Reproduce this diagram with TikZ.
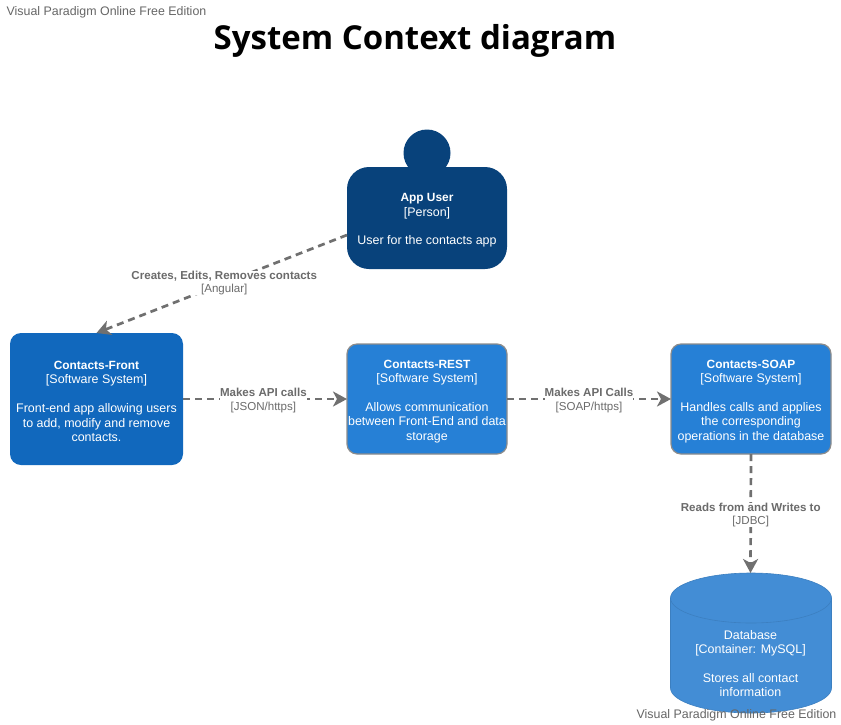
\documentclass[tikz,border=0pt]{standalone}
\usepackage{fontspec}
\setmainfont{Liberation Sans}
\newfontfamily\titlefont{Open Sans}
\usetikzlibrary{arrows.meta}
\definecolor{edgegray}{HTML}{707070}
\definecolor{labelgray}{HTML}{6B6B6B}
\definecolor{markgray}{HTML}{666666}
\definecolor{personblue}{HTML}{08427B}
\definecolor{frontblue}{HTML}{1168BD}
\definecolor{sysblue}{HTML}{2680D6}
\definecolor{sysline}{HTML}{8C8C8C}
\definecolor{dbblue}{HTML}{438DD5}
\definecolor{dbline}{HTML}{3C7FC0}
\newcommand{\boxhead}[1]{\rule{0pt}{13pt}{\fontsize{11.9}{14.4}\selectfont\bfseries #1}}
\tikzset{
  x=1pt,y=-1pt,
  boxtext/.style={text=white,align=center,font=\fontsize{12.45}{14.4}\selectfont,inner sep=0pt,outer sep=0pt},
  personbox/.style={boxtext,fill=personblue,rounded corners=22pt,minimum width=160pt,minimum height=102pt},
  frontbox/.style={boxtext,fill=frontblue,rounded corners=11pt,minimum width=173pt,minimum height=132pt},
  sysbox/.style={boxtext,fill=sysblue,draw=sysline,line width=1.2pt,rounded corners=10pt,minimum width=160pt,minimum height=110pt},
  rel/.style={draw=edgegray,line width=2.7pt,dash pattern=on 7pt off 5pt,-{Stealth[length=14pt,width=15pt,inset=4pt,fill=edgegray]}},
  rellabel/.style={fill=white,text=labelgray,align=center,inner sep=0pt,font=\fontsize{11.55}{13.2}\selectfont},
  wmark/.style={text=markgray,inner sep=0pt,font=\fontsize{12.4}{14}\selectfont}
}
\begin{document}
\begin{tikzpicture}
\useasboundingbox (0,0) rectangle (841,724);
\fill[white] (0,0) rectangle (841,724);
\node[wmark] (wmtop) at (106.5,12) {Visual Paradigm Online Free Edition};
\node[inner sep=0pt,font=\titlefont\bfseries\fontsize{33}{38}\selectfont] (title) at (415,41) {System Context diagram};

\fill[personblue] (427,153) circle (23.5);
\node[personbox] (user) at (427,218) {\boxhead{App User}\\{}[Person]\\[14.4pt]User for the contacts app};
\node[frontbox] (front) at (96.5,399) {\boxhead{Contacts-Front}\\{}[Software System]\\[14.4pt]Front-end app allowing users\\to add, modify and remove\\contacts.};
\node[sysbox] (rest) at (427,399) {\boxhead{Contacts-REST}\\{}[Software System]\\[14.4pt]Allows communication\\between Front-End and data\\storage};
\node[sysbox] (soap) at (751,399) {\boxhead{Contacts-SOAP}\\{}[Software System]\\[14.4pt]Handles calls and applies\\the corresponding\\operations in the database};

\path[fill=dbblue,draw=dbline,line width=0.6pt]
  (670.5,598) arc[start angle=180,end angle=360,x radius=80.5,y radius=25]
  -- (831.5,688) arc[start angle=0,end angle=180,x radius=80.5,y radius=25] -- cycle;
\draw[dbline,line width=0.6pt] (670.5,598) arc[start angle=180,end angle=0,x radius=80.5,y radius=25];
\node[boxtext] (db) at (750.5,663.5) {Database\\{}[Container: MySQL]\\[14.4pt]Stores all contact\\information};
\coordinate (dbtop) at (750.5,573);
\coordinate (userout) at (347,235);

\draw[rel] (userout) -- (front.north) node[rellabel,pos=0.49] (l1) {\textbf{Creates, Edits, Removes contacts}\\{}[Angular]};
\draw[rel] (front.east) -- (rest.west) node[rellabel,pos=0.49,yshift=-1.5pt] (l2) {\textbf{Makes API calls}\\{}[JSON/https]};
\draw[rel] (rest.east) -- (soap.west) node[rellabel,pos=0.5,yshift=-1.5pt] (l3) {\textbf{Makes API Calls}\\{}[SOAP/https]};
\draw[rel] (soap.south) -- (dbtop) node[rellabel,pos=0.5,yshift=-1.5pt] (l4) {\textbf{Reads from and Writes to}\\{}[JDBC]};

\node[wmark] (wmbot) at (736.5,715) {Visual Paradigm Online Free Edition};
\end{tikzpicture}
\end{document}
